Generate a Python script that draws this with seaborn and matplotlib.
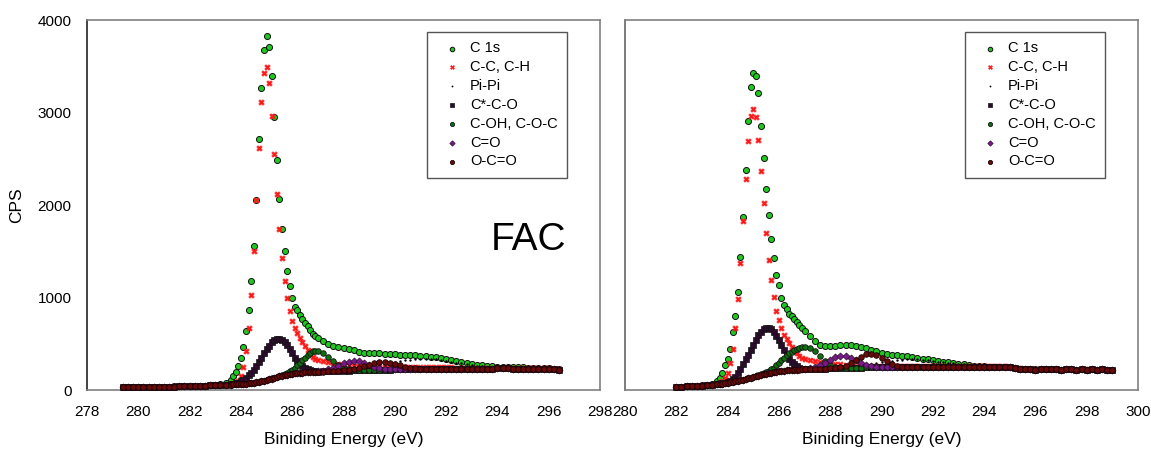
import numpy as np
import pandas as pd
import matplotlib
matplotlib.use("Agg")
import matplotlib.pyplot as plt
import seaborn as sns

# ---------------- energy grids (eV) ----------------
E_fac = np.round(np.r_[np.arange(279.4, 283.61, 0.2), np.arange(283.7, 287.01, 0.1),
                       np.arange(287.2, 296.41, 0.2)], 1)
E_r = np.round(np.r_[np.arange(282.0, 283.61, 0.2), np.arange(283.7, 287.01, 0.1),
                     np.arange(287.2, 299.01, 0.2)], 1)

# ---------------- left panel (FAC) ----------------
bg_fac = [30, 31, 31, 32, 32, 33, 33, 34, 35, 36, 37, 38, 40, 41, 43, 45, 47, 49, 51, 53, 56, 58,
          60, 61, 62, 64, 66, 68, 71, 74, 78, 83, 88, 94, 101, 108, 116, 124, 132, 140, 148, 155,
          161, 167, 172, 177, 181, 184, 187, 189, 191, 193, 195, 196, 197, 198,
          200, 202, 204, 206, 208, 210, 212, 214, 215, 217, 218, 219, 220, 221, 222, 223, 224, 225,
          226, 226, 227, 228, 228, 229, 229, 230, 230, 231, 231, 231, 232, 232, 232, 232, 233, 233,
          233, 232, 232, 232, 231, 231, 230, 229, 226, 222, 220]
c1s_fac = [33, 30, 34, 31, 35, 33, 36, 34, 37, 35, 39, 40, 41, 44, 43, 47, 48, 52, 55, 60, 72, 110,
           150, 195, 260, 350, 470, 640, 860, 1174, 1558, 2054, 2710, 3261, 3674, 3826, 3703, 3391,
           2946, 2489, 2065, 1736, 1504, 1286, 1120, 1000, 899, 862, 815, 768, 725, 688, 645, 610,
           585, 565,
           530, 500, 480, 462, 450, 440, 428, 415, 405, 400, 398, 395, 392, 388, 384, 382, 378, 374,
           373, 371, 368, 362, 355, 346, 337, 326, 315, 303, 292, 282, 272, 265, 260, 256, 252, 250,
           248, 246, 245, 244, 243, 242, 241, 240, 236, 230, 226]
cc_fac = [31, 31, 32, 33, 32, 34, 33, 35, 36, 36, 38, 39, 40, 42, 43, 46, 47, 50, 52, 54, 57, 60,
          63, 70, 101, 152, 254, 417, 670, 1029, 1504, 2054, 2620, 3112, 3428, 3489, 3315, 2967,
          2547, 2123, 1736, 1424, 1181, 1000, 859, 750, 670, 616, 562, 514, 471, 428, 388, 355,
          333, 325,
          318, 305, 292, 282, 275, 268, 262, 257, 254, 251, 250, 249, 248, 248, 247, 247, 246, 246,
          246, 245, 245, 245, 244, 244, 244, 244, 243, 243, 243, 243, 243, 243, 242, 242, 242, 242,
          242, 241, 241, 240, 240, 239, 238, 236, 233, 229, 226]
# fitted components: height above the background
pipi_fac = [0] * 22 + [0] * 19 + [1, 1, 1, 2, 2, 2, 3, 3, 4, 4, 5, 5, 6, 6, 7] + \
           [8, 10, 12, 15, 18, 22, 27, 32, 38, 45, 51, 58, 65, 72, 81, 89, 96, 103, 108, 111,
            112, 110, 104, 96, 86, 76, 66, 56, 47, 39, 32, 26, 21, 16, 13, 10, 7, 5, 4, 3,
            2, 1, 1, 0, 0, 0, 0]
cco_fac = [0] * 18 + [1, 1, 2, 4] + \
          [6, 11, 18, 28, 42, 62, 87, 111, 137, 172, 212, 251, 294, 332, 364, 391, 408, 412, 406,
           390, 359, 315, 268, 218, 169, 126, 93, 66, 45, 29, 17, 9, 4, 2] + [1] + [0] * 46
coh_fac = [0] * 22 + [0] * 15 + \
          [1, 2, 3, 5, 8, 13, 20, 30, 43, 60, 81, 105, 131, 158, 183, 205, 221, 229, 229] + \
          [205, 158, 105, 60, 30, 13, 5, 2] + [0] * 39
co_fac = [0] * 22 + [0] * 30 + [1, 1, 3, 4] + \
         [10, 20, 36, 58, 81, 98, 105, 98, 81, 58, 36, 20, 10, 4, 1] + [0] * 32
oco_fac = [0] * 22 + [0] * 34 + \
          [0, 1, 1, 2, 4, 8, 15, 27, 42, 58, 72, 81, 81, 72, 58, 42, 27, 15, 8, 4, 2, 1] + [0] * 25

# ---------------- right panel ----------------
bg_r = [35, 36, 38, 41, 45, 48, 52, 57, 62,
        66, 70, 74, 78, 83, 88, 93, 98, 104, 110, 117, 125, 132, 140, 148, 155, 163, 170, 177,
        183, 189, 195, 199, 203, 206, 209, 212, 214, 216, 218, 219, 221, 222, 224,
        226, 228, 230, 232, 234, 236, 237, 239, 240, 242, 243, 244, 245, 245, 246, 247, 247, 248,
        248, 249, 249, 250, 250, 250, 251, 251, 251, 252, 252, 252, 252, 252, 252, 252, 252, 252,
        252, 251, 251, 246, 238, 230, 226, 229, 221, 226, 230, 222, 227, 219, 225, 229, 218, 224,
        220, 226, 216, 222, 218, 217]
c1s_r = [36, 34, 39, 40, 47, 49, 55, 64, 98,
         127, 188, 268, 337, 446, 623, 804, 1058, 1442, 1870, 2380, 2913, 3279, 3424, 3399, 3207,
         2851, 2503, 2177, 1891, 1630, 1424, 1247, 1138, 1000, 924, 877, 823, 797, 768, 736, 707,
         671, 634,
         580, 525, 489, 478, 475, 480, 489, 486, 482, 478, 470, 455, 435, 417, 400, 390, 382, 375,
         370, 364, 358, 350, 340, 330, 320, 313, 306, 298, 290, 284, 278, 270, 264, 260, 256, 254,
         253, 252, 252, 248, 240, 232, 228, 230, 223, 227, 231, 223, 228, 220, 226, 230, 219, 225,
         221, 227, 217, 223, 219, 218]
cc_r = [36, 37, 39, 42, 46, 49, 53, 58, 66,
        75, 95, 127, 188, 290, 446, 670, 986, 1373, 1822, 2283, 2688, 2960, 3043, 2946, 2699,
        2370, 2022, 1696, 1409, 1185, 1007, 859, 761, 667, 598, 551, 507, 470, 425, 395, 370,
        350, 338,
        328, 318, 308, 299, 291, 284, 277, 271, 267, 263, 261, 259, 258, 257, 257, 256, 256, 256,
        256, 256, 256, 256, 256, 256, 256, 257, 257, 257, 257, 257, 257, 257, 257, 257, 257, 257,
        256, 256, 255, 250, 241, 233, 229, 231, 224, 228, 232, 224, 229, 221, 227, 231, 220, 226,
        222, 228, 218, 224, 220, 219]
pipi_r = [0] * 9 + [0] * 23 + [1, 1, 1, 1, 2, 2, 2, 2, 3, 3, 3] + \
         [3, 4, 4, 5, 5, 6, 8, 11, 14, 19, 24, 31, 38, 46, 55, 63, 70, 75, 80, 82,
          82, 80, 76, 70, 64, 57, 50, 43, 36, 30, 24, 19, 15, 12, 9, 7, 5, 4, 3, 2, 1, 1] + [0] * 18
cco_r = [0, 0, 0, 0, 0, 0, 1, 1, 2] + \
        [2, 3, 4, 5, 16, 30, 52, 82, 124, 170, 213, 255, 298, 350, 397, 435, 465, 485, 491,
         485, 466, 430, 386, 334, 283, 224, 168, 126, 92, 60, 36, 17, 6, 1] + [0] * 60
coh_r = [0] * 9 + [0] * 11 + \
        [1, 1, 2, 3, 5, 9, 12, 17, 24, 33, 48, 67, 90, 115, 140, 163, 183, 200, 215, 227, 235,
         239, 240] + [226, 192, 140, 82, 40, 16, 5, 1] + [0] * 52
co_r = [0] * 9 + [0] * 31 + [1, 2, 4] + \
       [10, 21, 39, 65, 93, 117, 129, 125, 106, 79, 51, 29, 15, 6, 2] + [0] * 45
oco_r = [0] * 9 + [0] * 34 + \
        [0, 0, 0, 0, 1, 4, 10, 24, 47, 80, 114, 140, 145, 129, 97, 63, 34, 16, 6, 2] + [0] * 40

for arr in (bg_fac, c1s_fac, cc_fac, pipi_fac, cco_fac, coh_fac, co_fac, oco_fac):
    assert len(arr) == len(E_fac), len(arr)
for arr in (bg_r, c1s_r, cc_r, pipi_r, cco_r, coh_r, co_r, oco_r):
    assert len(arr) == len(E_r), len(arr)

labels = ["C 1s", "C-C, C-H", "Pi-Pi", "C*-C-O", "C-OH, C-O-C", "C=O", "O-C=O"]

# ---------------- style ----------------
sns.set_style("white")
plt.rcParams["font.family"] = ["Liberation Sans", "DejaVu Sans"]
plt.rcParams["text.color"] = "black"
plt.rcParams["axes.labelcolor"] = "black"
plt.rcParams["xtick.color"] = "black"
plt.rcParams["ytick.color"] = "black"

styles = [
    dict(marker="o", s=19, color="#1fc81f", edgecolor="#111111", linewidth=0.7),   # C 1s
    dict(marker="X", s=18, color="#ff1a1a", edgecolor="#ff1a1a", linewidth=0.2),  # C-C
    dict(marker="o", s=3, color="#000000", edgecolor="#000000", linewidth=0.0),    # Pi-Pi
    dict(marker="s", s=13, color="#2c0c2c", edgecolor="#111111", linewidth=0.5),   # C*-C-O
    dict(marker="o", s=16, color="#0f700f", edgecolor="#111111", linewidth=0.6),   # C-OH
    dict(marker="D", s=13, color="#7a1a8a", edgecolor="#2a0a2a", linewidth=0.5),   # C=O
    dict(marker="o", s=16, color="#6a0b0b", edgecolor="#1a0000", linewidth=0.6),   # O-C=O
]

fig = plt.figure(figsize=(11.51, 4.5), dpi=100)
W, H = 1151, 450
ax1 = fig.add_axes([87 / W, 1 - 390 / H, 513 / W, 370 / H])
ax2 = fig.add_axes([625 / W, 1 - 390 / H, 513 / W, 370 / H])


def draw(ax, E, bg, c1s, cc, pipi, cco, coh, co, oco):
    bg = np.asarray(bg)
    series = [np.asarray(c1s), np.asarray(cc), bg + np.asarray(pipi), bg + np.asarray(cco),
              bg + np.asarray(coh), bg + np.asarray(co), bg + np.asarray(oco)]
    for i, (lab, y, st) in enumerate(zip(labels, series, styles)):
        df = pd.DataFrame({"E": E, "CPS": y})
        sns.scatterplot(data=df, x="E", y="CPS", ax=ax, label=lab, zorder=2 + i, **st)
    ax.set_ylim(0, 4000)
    ax.set_yticks([0, 1000, 2000, 3000, 4000])
    for side in ["top", "right", "bottom"]:
        ax.spines[side].set_color("#808080")
        ax.spines[side].set_linewidth(1.2)
    ax.spines["left"].set_linewidth(1.2)
    ax.tick_params(axis="both", direction="out", length=5, width=1, labelsize=11, pad=6,
                   colors="#000000")
    ax.tick_params(axis="x", color="#555555")
    leg = ax.legend(loc="upper left", bbox_to_anchor=(0.6628, 0.9676), borderaxespad=0,
                    frameon=True, fancybox=False, edgecolor="#555555", fontsize=10.5,
                    labelspacing=0.33, handlelength=2.1, handletextpad=0.2, borderpad=0.65,
                    framealpha=1, markerscale=0.75)
    leg.get_frame().set_linewidth(1.0)
    ax.set_xlabel("Biniding Energy (eV)", fontsize=12.5, labelpad=9)


draw(ax1, E_fac, bg_fac, c1s_fac, cc_fac, pipi_fac, cco_fac, coh_fac, co_fac, oco_fac)
ax1.set_xlim(278, 298)
ax1.set_xticks(np.arange(278, 299, 2))
ax1.spines["left"].set_color("#222222")
ax1.set_ylabel("CPS", fontsize=12.5, labelpad=10)
ax1.text(0.86, 0.405, "FAC", transform=ax1.transAxes, fontsize=28, ha="center", va="center")

draw(ax2, E_r, bg_r, c1s_r, cc_r, pipi_r, cco_r, coh_r, co_r, oco_r)
ax2.set_xlim(280, 300)
ax2.set_xticks(np.arange(280, 301, 2))
ax2.spines["left"].set_color("#666666")
ax2.tick_params(axis="y", labelleft=False, color="#333333")
ax2.set_ylabel("")

fig.savefig("out.png", dpi=100, facecolor="white")
